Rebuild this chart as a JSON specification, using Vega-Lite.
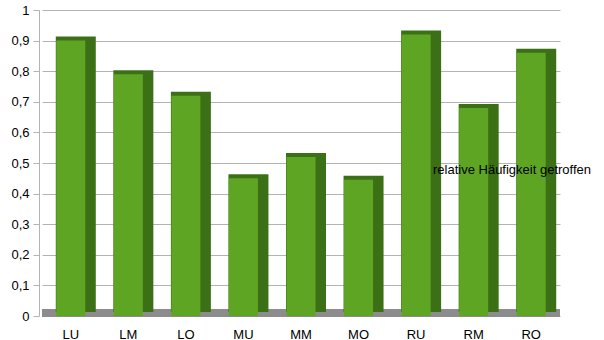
{
  "$schema": "https://vega.github.io/schema/vega-lite/v6.json",
  "autosize": "none",
  "width": 518,
  "height": 306,
  "padding": {"left": 42, "top": 10, "right": 44, "bottom": 24},
  "background": "white",
  "config": {
    "view": {"stroke": null},
    "font": "Liberation Sans",
    "axis": {"labelFont": "Liberation Sans", "labelFontSize": 13, "labelColor": "#000000"}
  },
  "data": {
    "values": [
      {"Kategorie": "LU", "Wert": 0.9, "Serie": "relative Häufigkeit getroffen"},
      {"Kategorie": "LM", "Wert": 0.79, "Serie": "relative Häufigkeit getroffen"},
      {"Kategorie": "LO", "Wert": 0.72, "Serie": "relative Häufigkeit getroffen"},
      {"Kategorie": "MU", "Wert": 0.45, "Serie": "relative Häufigkeit getroffen"},
      {"Kategorie": "MM", "Wert": 0.52, "Serie": "relative Häufigkeit getroffen"},
      {"Kategorie": "MO", "Wert": 0.445, "Serie": "relative Häufigkeit getroffen"},
      {"Kategorie": "RU", "Wert": 0.92, "Serie": "relative Häufigkeit getroffen"},
      {"Kategorie": "RM", "Wert": 0.68, "Serie": "relative Häufigkeit getroffen"},
      {"Kategorie": "RO", "Wert": 0.86, "Serie": "relative Häufigkeit getroffen"}
    ]
  },
  "encoding": {
    "x": {
      "field": "Kategorie",
      "type": "nominal",
      "sort": null,
      "scale": {"paddingInner": 0.3, "paddingOuter": 0.15},
      "axis": {"title": null, "labelAngle": 0, "domain": false, "ticks": false, "labelPadding": 12}
    },
    "y": {
      "field": "Wert",
      "type": "quantitative",
      "scale": {"domain": [0, 1]},
      "axis": {
        "title": null,
        "values": [0, 0.1, 0.2, 0.3, 0.4, 0.5, 0.6, 0.7, 0.8, 0.9, 1],
        "labelOverlap": false,
        "labelExpr": "replace(format(datum.value, '.1~f'), '.', ',')",
        "domainColor": "#b3b3b3",
        "tickColor": "#b3b3b3",
        "gridColor": "#b3b3b3",
        "tickSize": 6,
        "labelPadding": 4,
        "offset": 3
      }
    }
  },
  "layer": [
    {
      "mark": {"type": "rule", "color": "#8c8c8c", "strokeWidth": 7, "yOffset": -3},
      "encoding": {"x": {"value": 0}, "x2": {"value": 518}, "y": {"datum": 0}}
    },
    {
      "mark": {"type": "bar", "color": "#3c7016", "size": 40, "xOffset": 5, "yOffset": -4},
      "encoding": {}
    },
    {
      "mark": {"type": "bar", "size": 29},
      "encoding": {
        "color": {
          "field": "Serie",
          "type": "nominal",
          "scale": {"range": ["#5ea524"]},
          "legend": {
            "title": null,
            "orient": "none",
            "legendX": 378,
            "legendY": 153,
            "symbolSize": 0,
            "symbolStrokeWidth": 0,
            "symbolOpacity": 0,
            "labelOffset": 0,
            "padding": 0,
            "labelFont": "Liberation Sans",
            "labelFontSize": 13,
            "labelColor": "#000000"
          }
        }
      }
    }
  ]
}
